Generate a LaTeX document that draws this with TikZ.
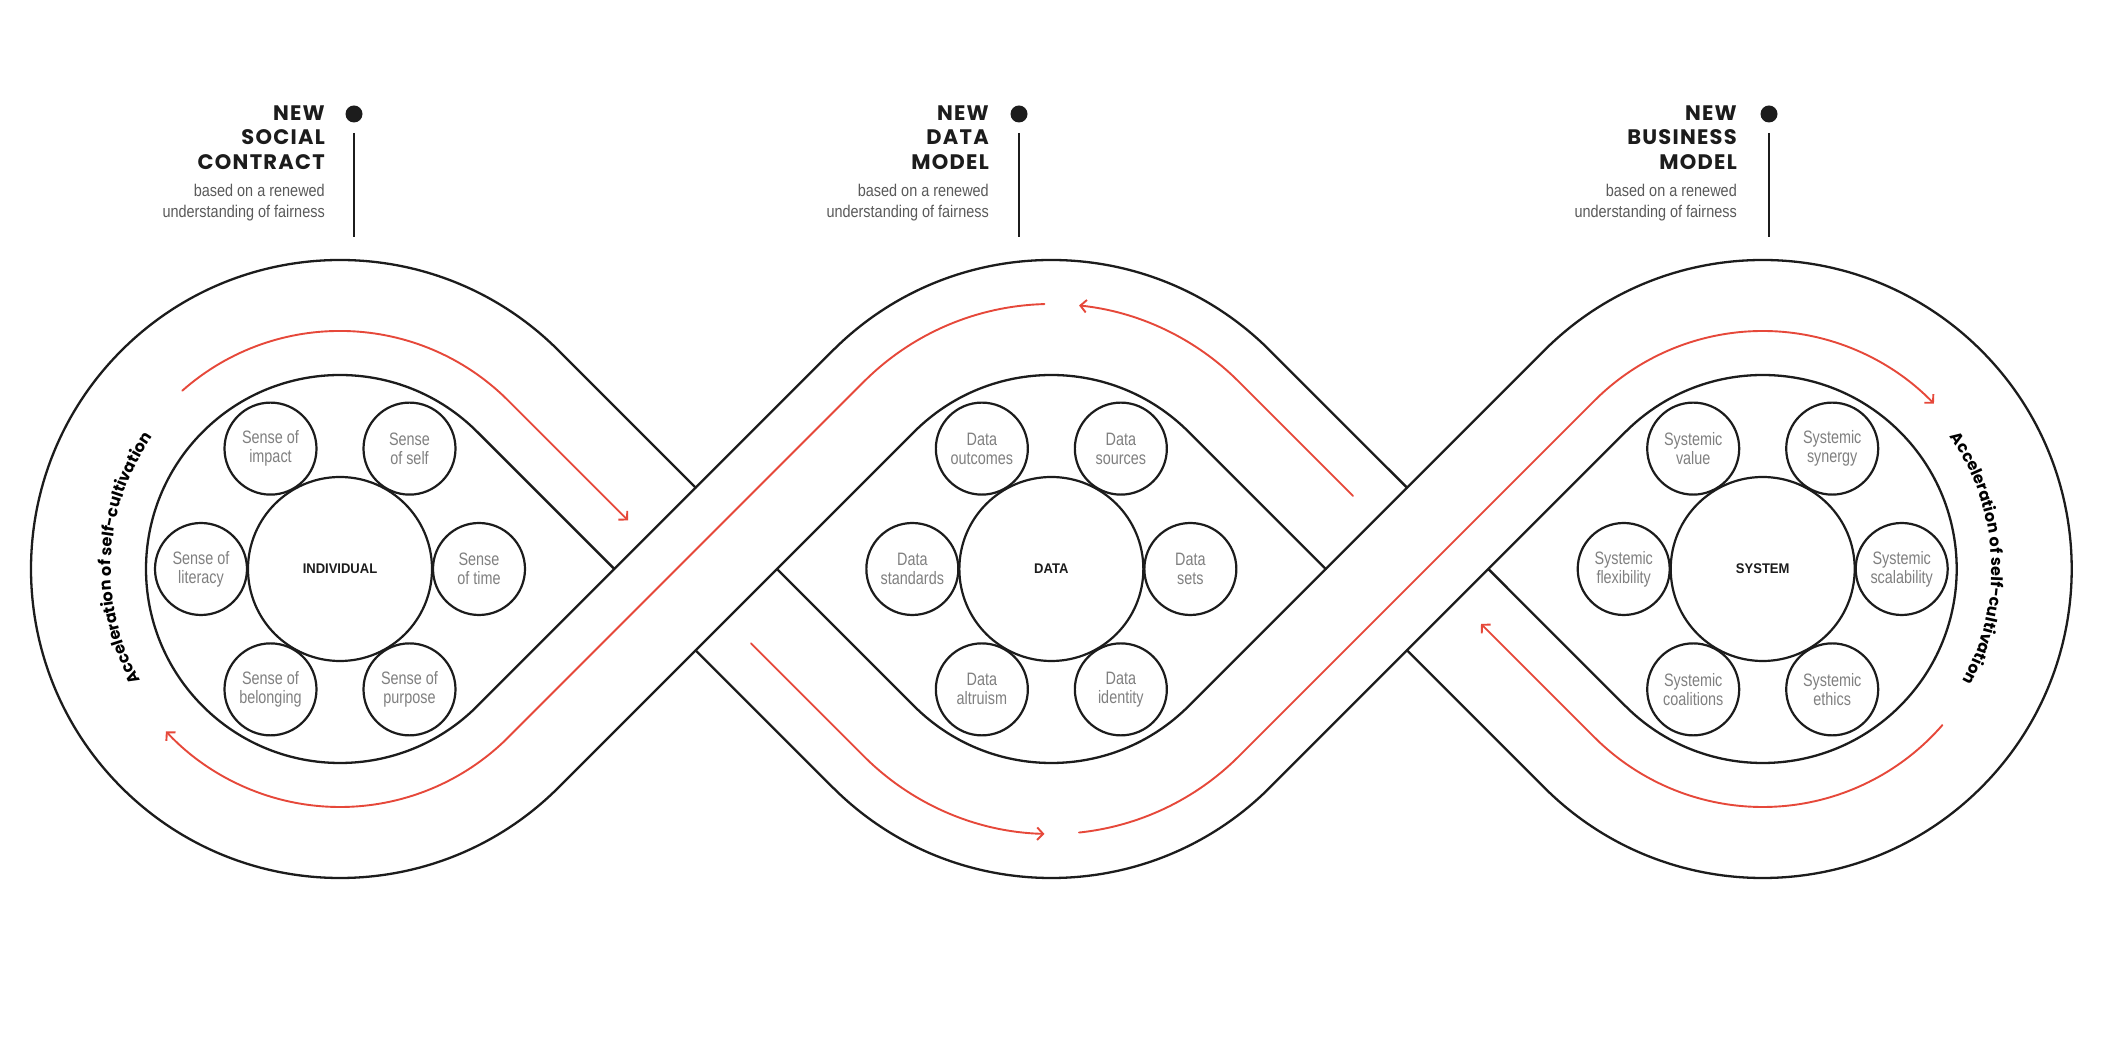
\documentclass[tikz,border=0pt]{standalone}
\usepackage{fontspec}
\setmainfont{Liberation Sans}
\newfontfamily\titlefont{Poppins}[LetterSpace=6]
\newfontfamily\arcfont{Poppins}[LetterSpace=4]
\newfontfamily\lblfont{Liberation Sans}[FakeStretch=0.8]
\newfontfamily\subfont{Liberation Sans}[FakeStretch=0.85]
\newfontfamily\ctrfont{Liberation Sans}[FakeStretch=0.93]
\usetikzlibrary{arrows.meta,decorations.text}
\definecolor{ink}{HTML}{1C1C1C}
\definecolor{subgray}{HTML}{5A5A5A}
\definecolor{lblgray}{HTML}{808080}
\definecolor{accent}{HTML}{E6483A}
\tikzset{
  track/.style={draw=ink, line width=2.3, line join=round, line cap=round},
  flow/.style={draw=accent, line width=1.9, line cap=round},
  flowarrow/.style={flow, -{Straight Barb[length=6pt,width=12.5pt,line width=1.9pt]}},
  hub/.style={circle, draw=ink, line width=2.2, minimum size=184, inner sep=0,
    font=\ctrfont\bfseries\fontsize{14}{16}\selectfont, text=ink},
  sat/.style={circle, draw=ink, line width=2.2, minimum size=92, inner sep=0, align=center,
    font=\lblfont\fontsize{18}{19}\selectfont, text=lblgray},
  ttl/.style={anchor=base east, inner sep=0, font=\titlefont\bfseries\fontsize{21}{24}\selectfont, text=ink},
  subttl/.style={anchor=base east, inner sep=0, font=\subfont\fontsize{17}{21}\selectfont, text=subgray},
  dotn/.style={circle, fill=ink, minimum size=17, inner sep=0},
  stem/.style={draw=ink, line width=1.8}
}
\begin{document}
\begin{tikzpicture}[x=1pt,y=1pt]
\fill[white] (0,0) rectangle (2104,1044);
\useasboundingbox (0,0) rectangle (2104,1044);

% ---------- track (black lines) ----------
\draw[track] (695.68,556.32) -- (558.50,693.50) arc[start angle=45,end angle=315,radius=309]
  -- (914.17,612.18) arc[start angle=135,end angle=45,radius=194] -- (1325.71,475);
\draw[track] (777,475) -- (914.17,337.82) arc[start angle=225,end angle=315,radius=194]
  -- (1544.2,693.5) arc[start angle=135,end angle=-135,radius=309] -- (1407.03,393.68);
\draw[track] (614.36,475) -- (477.18,612.18) arc[start angle=45,end angle=315,radius=194]
  -- (832.85,693.5) arc[start angle=135,end angle=45,radius=309] -- (1407.03,556.32);
\draw[track] (695.68,393.68) -- (832.85,256.5) arc[start angle=225,end angle=315,radius=309]
  -- (1625.52,612.18) arc[start angle=135,end angle=-135,radius=194] -- (1488.35,475);

% ---------- red flow ----------
\draw[flowarrow] (182.3,653.3) arc[start angle=131.5,end angle=45,radius=238] -- (628,523.58);
\draw[flowarrow] (1044.41,739.91) arc[start angle=91.5,end angle=135,radius=265]
  -- (508.29,306.71) arc[start angle=-45,end angle=-137,radius=238];
\draw[flowarrow] (1353,548.12) -- (1238.73,662.38) arc[start angle=45,end angle=84,radius=265];
\draw[flowarrow] (751,400.58) -- (863.97,287.62) arc[start angle=225,end angle=268.5,radius=265];
\draw[flowarrow] (1079.05,211.45) arc[start angle=276,end angle=315,radius=265]
  -- (1594.41,643.29) arc[start angle=135,end angle=44,radius=238];
\draw[flowarrow] (1942.32,318.86) arc[start angle=-41,end angle=-135,radius=238] -- (1481,420.12);

% ---------- arc texts ----------
\path[decorate, decoration={text along path, text align=center,
  text={|\arcfont\bfseries\fontsize{16}{16}\selectfont|Acceleration of self-cultivation}}]
  (215.28,282.95) arc[start angle=237,end angle=117,radius=229];
\path[decorate, decoration={text along path, text align=center,
  text={|\arcfont\bfseries\fontsize{16}{16}\selectfont|Acceleration of self-cultivation}}]
  (1866.66,679.04) arc[start angle=63,end angle=-57,radius=229];

% ---------- left cluster ----------
\node[hub] (ind) at (340,475) {INDIVIDUAL};
\node[sat] (ind0) at (479,475) {Sense\\of time};
\node[sat] (ind60) at (409.5,595.38) {Sense\\of self};
\node[sat] (ind120) at (270.5,595.38) {Sense of\\impact};
\node[sat] (ind180) at (201,475) {Sense of\\literacy};
\node[sat] (ind240) at (270.5,354.62) {Sense of\\belonging};
\node[sat] (ind300) at (409.5,354.62) {Sense of\\purpose};

% ---------- middle cluster ----------
\node[hub] (dat) at (1051.35,475) {DATA};
\node[sat] (dat0) at (1190.35,475) {Data\\sets};
\node[sat] (dat60) at (1120.85,595.38) {Data\\sources};
\node[sat] (dat120) at (981.85,595.38) {Data\\outcomes};
\node[sat] (dat180) at (912.35,475) {Data\\standards};
\node[sat] (dat240) at (981.85,354.62) {Data\\altruism};
\node[sat] (dat300) at (1120.85,354.62) {Data\\identity};

% ---------- right cluster ----------
\node[hub] (sys) at (1762.7,475) {SYSTEM};
\node[sat] (sys0) at (1901.7,475) {Systemic\\scalability};
\node[sat] (sys60) at (1832.2,595.38) {Systemic\\synergy};
\node[sat] (sys120) at (1693.2,595.38) {Systemic\\value};
\node[sat] (sys180) at (1623.7,475) {Systemic\\flexibility};
\node[sat] (sys240) at (1693.2,354.62) {Systemic\\coalitions};
\node[sat] (sys300) at (1832.2,354.62) {Systemic\\ethics};

% ---------- titles ----------
\node[ttl] (t1a) at (325,923.3) {NEW};
\node[ttl] (t1b) at (325,899) {SOCIAL};
\node[ttl] (t1c) at (325,874.7) {CONTRACT};
\node[subttl] (t1d) at (325,847.3) {based on a renewed};
\node[subttl] (t1e) at (325,826.5) {understanding of fairness};
\node[dotn] (d1) at (354,930) {};
\coordinate (s1a) at (354,911);
\coordinate (s1b) at (354,807);
\draw[stem] (s1a) -- (s1b);

\node[ttl] (t2a) at (989,923.3) {NEW};
\node[ttl] (t2b) at (989,899) {DATA};
\node[ttl] (t2c) at (989,874.7) {MODEL};
\node[subttl] (t2d) at (989,847.3) {based on a renewed};
\node[subttl] (t2e) at (989,826.5) {understanding of fairness};
\node[dotn] (d2) at (1019,930) {};
\coordinate (s2a) at (1019,911);
\coordinate (s2b) at (1019,807);
\draw[stem] (s2a) -- (s2b);

\node[ttl] (t3a) at (1737,923.3) {NEW};
\node[ttl] (t3b) at (1737,899) {BUSINESS};
\node[ttl] (t3c) at (1737,874.7) {MODEL};
\node[subttl] (t3d) at (1737,847.3) {based on a renewed};
\node[subttl] (t3e) at (1737,826.5) {understanding of fairness};
\node[dotn] (d3) at (1769,930) {};
\coordinate (s3a) at (1769,911);
\coordinate (s3b) at (1769,807);
\draw[stem] (s3a) -- (s3b);
\end{tikzpicture}
\end{document}
